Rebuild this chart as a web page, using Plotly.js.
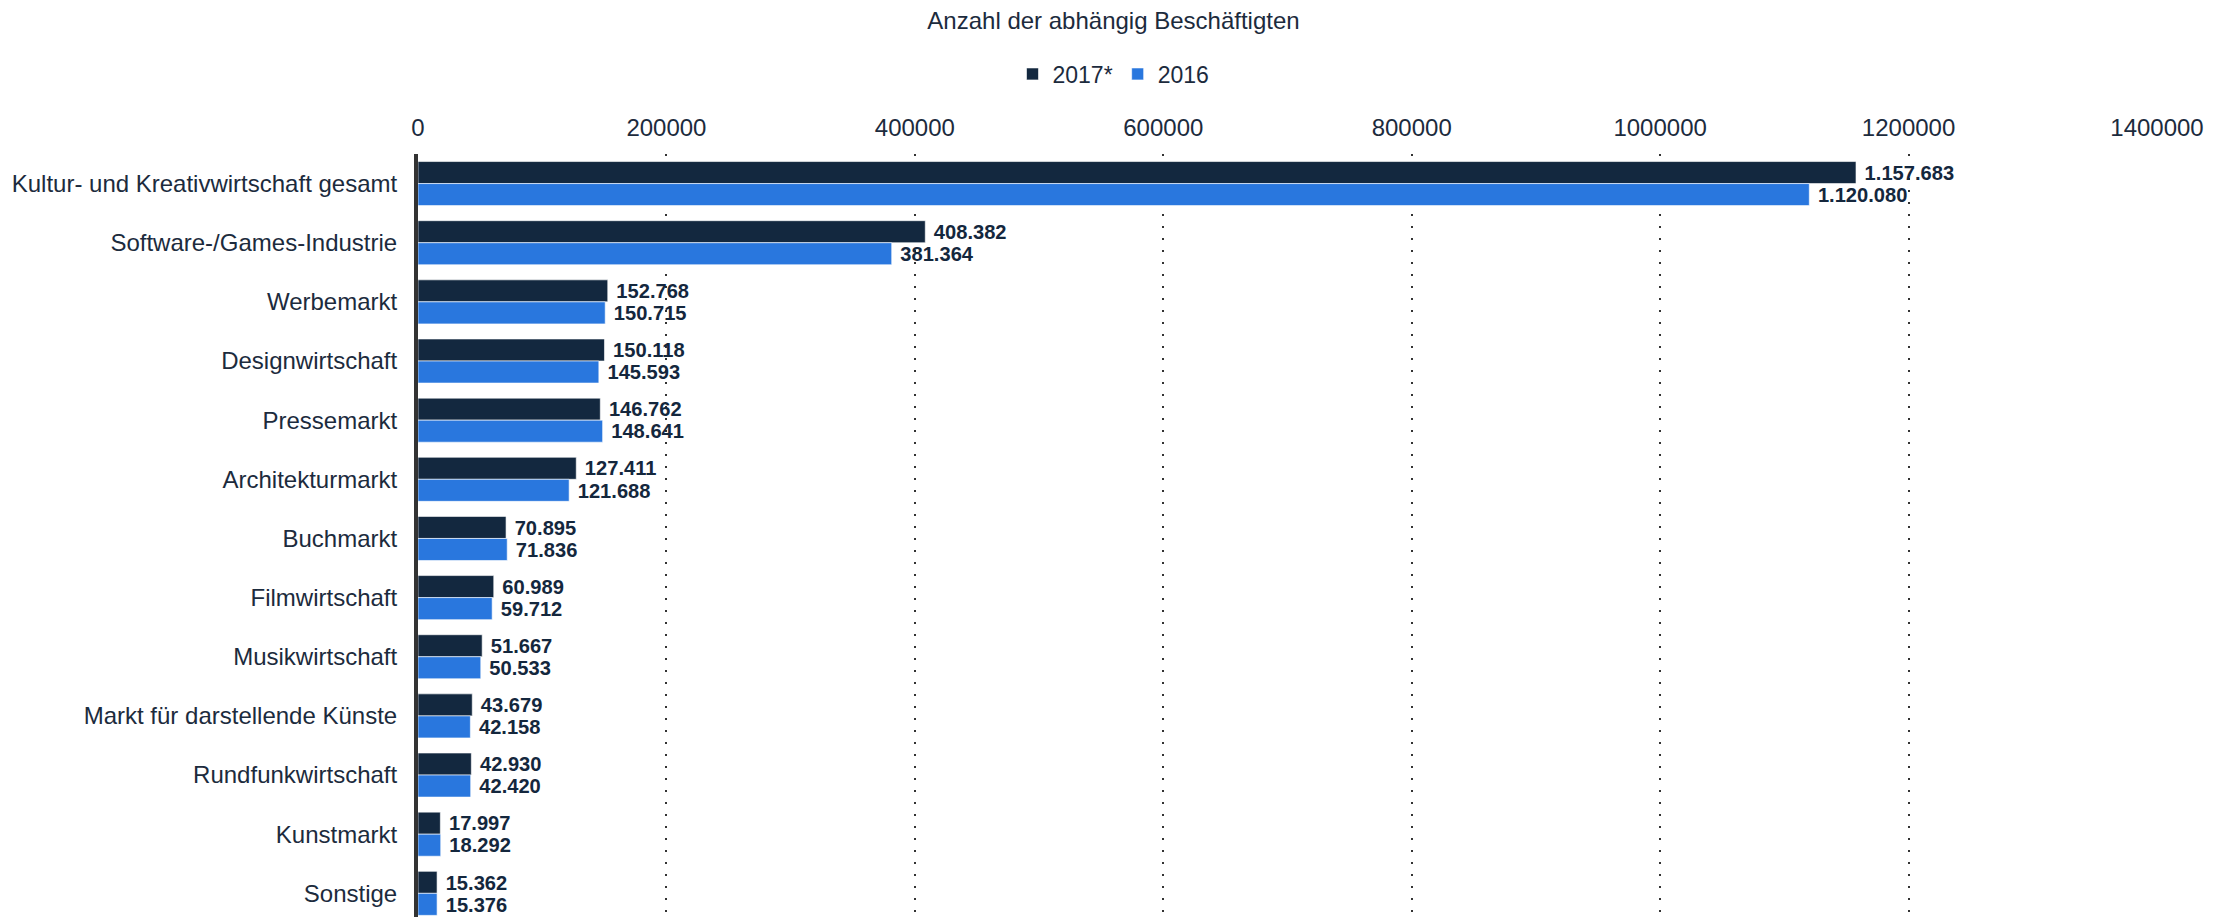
<!DOCTYPE html>
<html>
<head>
<meta charset="utf-8">
<script src="https://cdn.plot.ly/plotly-3.0.1.min.js"></script>
<style>html,body{margin:0;padding:0;background:#fff;}#chart{width:2227px;height:917px;}</style>
</head>
<body>
<div id="chart"></div>
<script>
const categories = [
  "Kultur- und Kreativwirtschaft gesamt",
  "Software-/Games-Industrie",
  "Werbemarkt",
  "Designwirtschaft",
  "Pressemarkt",
  "Architekturmarkt",
  "Buchmarkt",
  "Filmwirtschaft",
  "Musikwirtschaft",
  "Markt für darstellende Künste",
  "Rundfunkwirtschaft",
  "Kunstmarkt",
  "Sonstige"
];
const values2017 = [1157683, 408382, 152768, 150118, 146762, 127411, 70895, 60989, 51667, 43679, 42930, 17997, 15362];
const values2016 = [1120080, 381364, 150715, 145593, 148641, 121688, 71836, 59712, 50533, 42158, 42420, 18292, 15376];
const seriesNames = ["2017*", "2016"];
const tickValues = [0, 200000, 400000, 600000, 800000, 1000000, 1200000, 1400000];

const textColor = "#1c2b3d";
const labelFont = {family: "Arial, Liberation Sans, sans-serif", size: 21, color: "#14273d", weight: "bold"};

function barTrace(name, vals, color) {
  return {
    type: "bar",
    orientation: "h",
    name: name,
    y: categories,
    x: vals,
    marker: {color: color, line: {color: "rgba(255,255,255,0.6)", width: 1}},
    texttemplate: "\u00a0%{x:,}",
    textposition: "outside",
    textfont: labelFont,
    cliponaxis: false,
    hoverinfo: "x+y+name"
  };
}

const data = [
  barTrace(seriesNames[0], values2017, "#13283f"),
  barTrace(seriesNames[1], values2016, "#2977de")
];

const layout = {
  width: 2227,
  height: 917,
  separators: ",.",
  paper_bgcolor: "#ffffff",
  plot_bgcolor: "#ffffff",
  margin: {l: 418, r: 70, t: 154, b: 0, pad: 0},
  barmode: "group",
  bargap: 0.255,
  bargroupgap: 0,
  font: {family: "Arial, Liberation Sans, sans-serif", color: textColor, size: 24},
  title: {
    text: "Anzahl der abhängig Beschäftigten",
    xref: "container", x: 0.5, xanchor: "center",
    yref: "container", y: 1 - 21/917, yanchor: "middle",
    font: {size: 24, color: textColor}
  },
  legend: {
    orientation: "h",
    xref: "container", x: 0.5, xanchor: "center",
    yref: "container", y: 1 - 74/917, yanchor: "middle",
    font: {size: 23, color: textColor},
    itemwidth: 30,
    traceorder: "normal"
  },
  xaxis: {
    side: "top",
    range: [0, 1400000],
    tickvals: tickValues,
    tickformat: "d",
    showgrid: true,
    gridcolor: "#333333",
    gridwidth: 2,
    griddash: "2px,10px",
    zeroline: false,
    showline: false,
    ticks: "",
    ticklabelstandoff: 12,
    tickfont: {size: 24, color: textColor},
    fixedrange: true
  },
  yaxis: {
    type: "category",
    range: [12.4, -0.5],
    showgrid: false,
    zeroline: false,
    showline: true,
    linecolor: "#333333",
    linewidth: 4,
    ticks: "",
    ticklabelstandoff: 12,
    tickfont: {size: 24, color: textColor},
    fixedrange: true
  },
  showlegend: true
};

Plotly.newPlot("chart", data, layout, {displayModeBar: false, staticPlot: true});
</script>
</body>
</html>
